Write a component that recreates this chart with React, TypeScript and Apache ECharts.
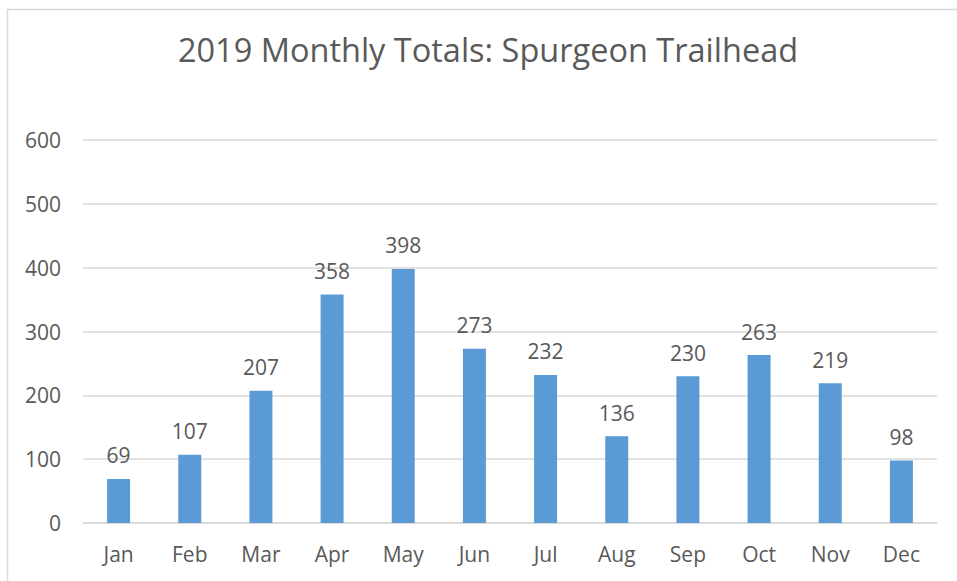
import React, { useEffect, useRef } from "react";
import * as echarts from "echarts";

const titleText = "2019 Monthly Totals: Spurgeon Trailhead";
const months = ["Jan", "Feb", "Mar", "Apr", "May", "Jun", "Jul", "Aug", "Sep", "Oct", "Nov", "Dec"];
const totals = [69, 107, 207, 358, 398, 273, 232, 136, 230, 263, 219, 98];
const yMin = 0;
const yMax = 600;
const yStep = 100;

const FONT = "'Open Sans', 'Noto Sans', sans-serif";
const TEXT = "#595959";

export default function App() {
  const ref = useRef<HTMLDivElement>(null);
  useEffect(() => {
    document.body.style.margin = "0";
    if (!ref.current) return;
    const chart = echarts.init(ref.current, null, { renderer: "svg" });
    chart.setOption({
      animation: false,
      backgroundColor: "#ffffff",
      title: {
        text: titleText,
        left: 483,
        top: 28,
        textAlign: "center",
        textStyle: { fontFamily: FONT, fontSize: 32.5, fontWeight: "normal", color: TEXT },
      },
      graphic: [
        {
          type: "rect",
          shape: { x: 7.5, y: 9.5, width: 1000, height: 1000 },
          style: { fill: "none", stroke: "#d9d9d9", lineWidth: 1.5 },
          silent: true,
        },
      ],
      grid: { left: 83, right: 20, top: 140, bottom: 58, containLabel: false },
      xAxis: {
        type: "category",
        data: months,
        axisLine: { show: true, lineStyle: { color: "#d9d9d9", width: 1.5 } },
        axisTick: { show: false },
        axisLabel: { color: TEXT, fontFamily: FONT, fontSize: 21, margin: 20 },
      },
      yAxis: {
        type: "value",
        min: yMin,
        max: yMax,
        interval: yStep,
        axisLine: { show: false },
        axisTick: { show: false },
        splitLine: { lineStyle: { color: "#d9d9d9", width: 1.5 } },
        axisLabel: { color: TEXT, fontFamily: FONT, fontSize: 21, margin: 22 },
      },
      series: [
        {
          type: "bar",
          data: totals,
          barWidth: 23,
          itemStyle: { color: "#5b9bd5" },
          label: {
            show: true,
            position: "top",
            distance: 13,
            color: TEXT,
            fontFamily: FONT,
            fontSize: 21,
          },
        },
      ],
    });
    return () => chart.dispose();
  }, []);
  return <div ref={ref} style={{ width: 957, height: 581 }} />;
}
